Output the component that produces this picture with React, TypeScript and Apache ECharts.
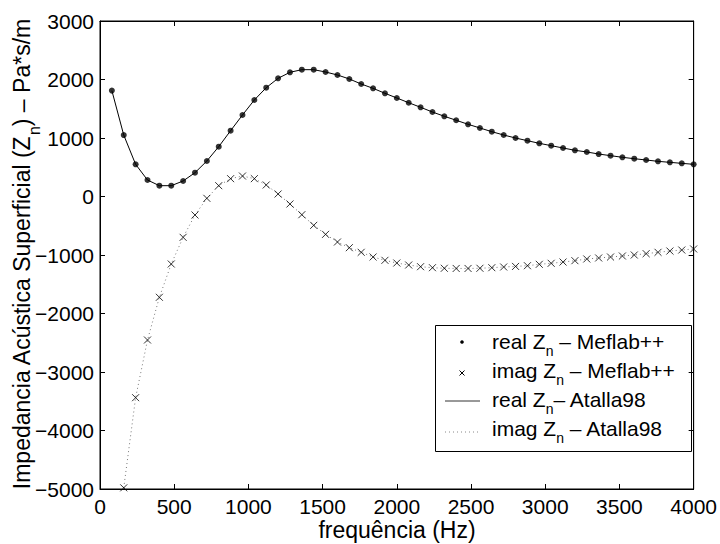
import React, { useEffect, useRef } from 'react';
import * as echarts from 'echarts';

const freq = [
  80, 160, 240, 320, 400, 480, 560, 640, 720, 800,
  880, 960, 1040, 1120, 1200, 1280, 1360, 1440, 1520, 1600,
  1680, 1760, 1840, 1920, 2000, 2080, 2160, 2240, 2320, 2400,
  2480, 2560, 2640, 2720, 2800, 2880, 2960, 3040, 3120, 3200,
  3280, 3360, 3440, 3520, 3600, 3680, 3760, 3840, 3920, 4000,
];

const realZ = [
  1810, 1050, 550, 282, 185, 185, 265, 407, 607, 852,
  1125, 1393, 1650, 1860, 2020, 2123, 2168, 2168, 2128, 2077,
  2009, 1923, 1849, 1764, 1684, 1603, 1525, 1444, 1371, 1303,
  1234, 1171, 1108, 1051, 1000, 954, 909, 869, 829, 790,
  761, 726, 698, 670, 646, 624, 601, 584, 567, 550,
];

const imagZ: (number | null)[] = [
  null, -4980, -3439, -2453, -1723, -1154, -698, -316, -31, 185,
  305, 350, 305, 197, 43, -128, -311, -493, -647, -778,
  -875, -954, -1034, -1091, -1137, -1171, -1200, -1217, -1227, -1230,
  -1230, -1227, -1217, -1205, -1195, -1183, -1159, -1142, -1120, -1097,
  -1068, -1051, -1034, -1017, -1000, -977, -954, -932, -915, -897,
];

const xTitle = 'frequência (Hz)';
// [before subscript, subscript, after subscript]
const legendRows = [
  ['real Z', 'n', ' – Meflab++'],
  ['imag Z', 'n', ' – Meflab++'],
  ['real Z', 'n', '– Atalla98'],
  ['imag Z', 'n', ' – Atalla98'],
];
const yTitleParts = ['Impedancia Acústica Superficial (Z', 'n', ') – Pa*s/m'];

const FONT = "'Liberation Sans', Arial, Helvetica, sans-serif";
const XSYM = 'path://M0,0L10,10M10,0L0,10';

function measure(text: string, size: number): number {
  const c = document.createElement('canvas').getContext('2d')!;
  c.font = `${size}px ${FONT}`;
  return c.measureText(text).width;
}

function subText(parts: string[], size: number, subSize: number, shift: number, x0: number, align: 'left' | 'center') {
  const w0 = measure(parts[0], size);
  const w1 = measure(parts[1], subSize);
  const w2 = measure(parts[2], size);
  const total = w0 + w1 + w2;
  const start = align === 'center' ? x0 - total / 2 : x0;
  const st = (text: string, sz: number) => ({ text, font: `${sz}px ${FONT}`, fill: '#000', textAlign: 'left', textVerticalAlign: 'middle' });
  return [
    { type: 'text', x: start, y: 0, style: st(parts[0], size) },
    { type: 'text', x: start + w0, y: shift, style: st(parts[1], subSize) },
    { type: 'text', x: start + w0 + w1, y: 0, style: st(parts[2], size) },
  ];
}

export default function App() {
  const ref = useRef<HTMLDivElement>(null);
  useEffect(() => {
    document.body.style.margin = '0';
    const chart = echarts.init(ref.current!, null, { renderer: 'svg' });
    const realPts = freq.map((f, i) => [f, realZ[i]]);
    const imagPts = freq.map((f, i) => [f, imagZ[i]]);
    const minus = (v: number) => String(v).replace('-', '\u2212');
    const axisCommonX = {
      type: 'value', min: 0, max: 4000, interval: 500,
      axisLine: { show: true, onZero: false, lineStyle: { color: '#000', width: 1 } },
      axisTick: { show: true, inside: true, length: 5, lineStyle: { color: '#000', width: 1 } },
      splitLine: { show: false },
    };
    const axisCommonY = {
      type: 'value', min: -5000, max: 3000, interval: 1000,
      axisLine: { show: true, onZero: false, lineStyle: { color: '#000', width: 1 } },
      axisTick: { show: true, inside: true, length: 5, lineStyle: { color: '#000', width: 1 } },
      splitLine: { show: false },
    };
    const textMid = [341.6, 370.6, 399.6, 428.6];
    const sampleY = [342, 373, 401, 432];
    const legendChildren: any[] = [
      { type: 'rect', shape: { x: 435.5, y: 325.5, width: 256, height: 126 }, style: { fill: '#fff', stroke: '#000', lineWidth: 1 } },
      { type: 'circle', shape: { cx: 462, cy: sampleY[0], r: 1.8 }, style: { fill: '#000' } },
      { type: 'line', shape: { x1: 459.5, y1: sampleY[1] - 2.5, x2: 464.5, y2: sampleY[1] + 2.5 }, style: { stroke: '#000', lineWidth: 1 } },
      { type: 'line', shape: { x1: 464.5, y1: sampleY[1] - 2.5, x2: 459.5, y2: sampleY[1] + 2.5 }, style: { stroke: '#000', lineWidth: 1 } },
      { type: 'line', shape: { x1: 445, y1: sampleY[2], x2: 480, y2: sampleY[2] }, style: { stroke: '#333', lineWidth: 1 } },
      { type: 'line', shape: { x1: 445, y1: sampleY[3], x2: 480, y2: sampleY[3] }, style: { stroke: '#888', lineWidth: 1, lineDash: [1, 3] } },
    ];
    legendRows.forEach((parts, i) => {
      legendChildren.push({ type: 'group', x: 0, y: textMid[i], children: subText(parts, 21, 14, 9.5, 492, 'left') });
    });
    chart.setOption({
      animation: false,
      textStyle: { fontFamily: FONT },
      grid: { left: 100, top: 21, right: 24, bottom: 55, show: true, borderColor: '#000', borderWidth: 1, backgroundColor: '#fff' },
      xAxis: [
        { ...axisCommonX, position: 'bottom', axisLabel: { color: '#000', fontSize: 21, lineHeight: 21, fontFamily: FONT, margin: 7, formatter: (v: number) => String(v) } },
        { ...axisCommonX, position: 'top', axisLabel: { show: false } },
      ],
      yAxis: [
        { ...axisCommonY, position: 'left', axisLabel: { color: '#000', fontSize: 21, fontFamily: FONT, margin: 6, formatter: minus } },
        { ...axisCommonY, position: 'right', axisLabel: { show: false } },
      ],
      series: [
        {
          type: 'line', name: 'real Zn – Atalla98', data: realPts, showSymbol: false, symbol: 'none',
          lineStyle: { color: '#000', width: 1 }, z: 2,
        },
        {
          type: 'line', name: 'imag Zn – Atalla98', data: imagPts, showSymbol: false, symbol: 'none', connectNulls: false,
          lineStyle: { color: '#777', width: 1, type: [1, 3] }, z: 2,
        },
        {
          type: 'scatter', name: 'real Zn – Meflab++', data: realPts, symbol: 'circle', symbolSize: 6,
          itemStyle: { color: '#000' }, z: 3,
        },
        {
          type: 'scatter', name: 'imag Zn – Meflab++', data: imagPts.filter((p) => p[1] !== null), symbol: XSYM, symbolSize: 7,
          itemStyle: { color: 'none', borderColor: '#000', borderWidth: 1 }, z: 3,
        },
      ],
      graphic: [
        { type: 'group', z: 100, children: legendChildren },
        {
          type: 'text', x: 397, y: 530, z: 100,
          style: { text: xTitle, font: `23px ${FONT}`, fill: '#000', textAlign: 'center', textVerticalAlign: 'middle' },
        },
        {
          type: 'group', x: 22, y: 254, rotation: Math.PI / 2, z: 100,
          children: subText(yTitleParts, 23, 16, 12.4, 0, 'center'),
        },
      ],
    });
    return () => chart.dispose();
  }, []);
  return <div ref={ref} style={{ width: 720, height: 544 }} />;
}
